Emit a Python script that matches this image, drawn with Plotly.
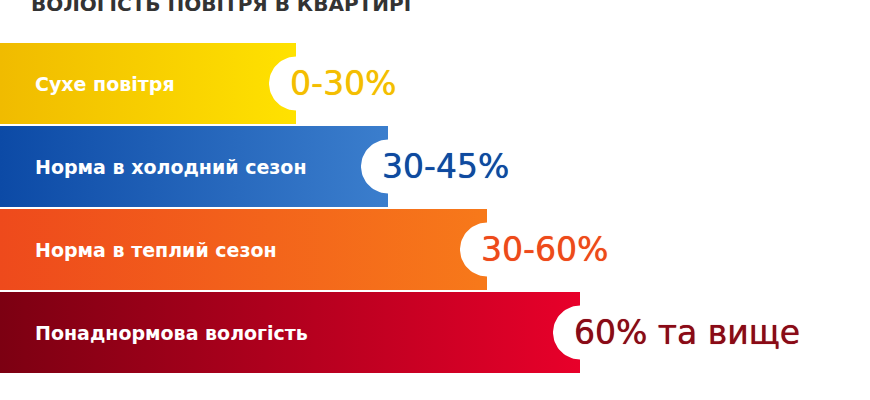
import numpy as np
import plotly.graph_objects as go

# humidity categories (top to bottom)
labels = ["Сухе повітря", "Норма в холодний сезон", "Норма в теплий сезон", "Понаднормова вологість"]
ranges = ["0-30%", "30-45%", "30-60%", "60% та вище"]
bar_lengths = [296, 388, 487, 580]  # bar length, px units of the x axis
title = "ВОЛОГІСТЬ ПОВІТРЯ В КВАРТИРІ"

grad_left = ["#F0BB00", "#0C4AA6", "#EE4A1C", "#7C0012"]
grad_right = ["#FFE200", "#3B7ECD", "#F7791A", "#E8002A"]
range_colors = ["#F4BE00", "#0E4AA0", "#EE4A1A", "#8A0A16"]

W, H = 870, 400
TOP0, PITCH, BAR_H, R = 43, 83, 81, 27

fig = go.Figure()

for i, (lab, rng, L) in enumerate(zip(labels, ranges, bar_lengths)):
    top = TOP0 + PITCH * i
    bot = top + BAR_H
    cy = (top + bot) / 2
    theta = np.linspace(3 * np.pi / 2, np.pi / 2, 40)
    xs = [0, L] + list(L + R * np.cos(theta)) + [L, 0, 0]
    ys = [top, top] + list(cy + R * np.sin(theta)) + [bot, bot, top]
    fig.add_trace(
        go.Scatter(
            x=xs,
            y=ys,
            mode="lines",
            line=dict(width=0),
            fill="toself",
            fillgradient=dict(
                type="horizontal",
                colorscale=[[0, grad_left[i]], [1, grad_right[i]]],
            ),
            hoverinfo="skip",
            showlegend=False,
        )
    )
    fig.add_annotation(
        x=33, y=cy, xref="x", yref="y", text=lab, showarrow=False,
        xanchor="left", yanchor="middle",
        font=dict(family="DejaVu Sans", size=19, color="white", weight="bold"),
    )
    fig.add_annotation(
        x=L - 8, y=cy, xref="x", yref="y", text=rng, showarrow=False,
        xanchor="left", yanchor="middle",
        font=dict(family="DejaVu Sans", size=33, color=range_colors[i],
                  shadow="0px 0px 0.7px " + range_colors[i]),
    )

fig.add_annotation(
    x=221, y=4, xref="x", yref="y", text=title, showarrow=False,
    xanchor="center", yanchor="middle",
    font=dict(family="DejaVu Sans", size=20, color="#333333", weight="bold"),
)

fig.update_layout(
    width=W,
    height=H,
    margin=dict(l=0, r=0, t=0, b=0),
    paper_bgcolor="white",
    plot_bgcolor="white",
)
fig.update_xaxes(range=[0, W], visible=False, showgrid=False)
fig.update_yaxes(range=[H, 0], visible=False, showgrid=False)

fig.write_html(
    "out.html",
    config={"displayModeBar": False},
    post_script="document.body.style.margin='0px';",
)
